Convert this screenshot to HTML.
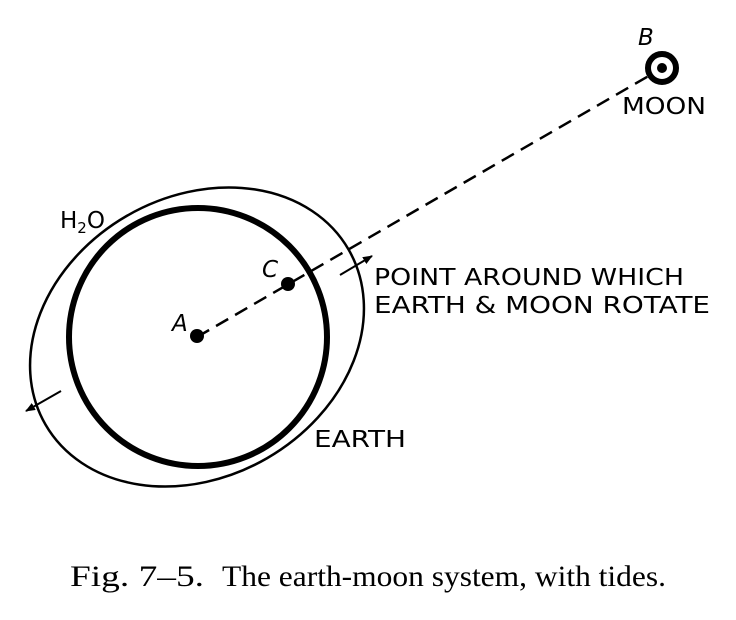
<!DOCTYPE html>
<html><head><style>body{margin:0;background:#fff}svg{display:block}</style></head><body>
<svg width="736" height="620" viewBox="0 0 736 620" xmlns="http://www.w3.org/2000/svg">
<defs><marker id="ah" markerWidth="10" markerHeight="8" refX="9" refY="4" orient="auto" markerUnits="userSpaceOnUse"><path d="M0,0 L10,4 L0,8 z" fill="#000"/></marker></defs>
<ellipse cx="197" cy="337" rx="175" ry="140" transform="rotate(-30 197 337)" fill="none" stroke="#000" stroke-width="2.5"/>
<circle cx="198" cy="337" r="129" fill="none" stroke="#000" stroke-width="6"/>
<line x1="197" y1="337" x2="652" y2="74" stroke="#000" stroke-width="2.5" stroke-dasharray="14,8"/>
<circle cx="197" cy="336" r="7" fill="#000"/>
<circle cx="288" cy="284" r="7" fill="#000"/>
<circle cx="662" cy="68" r="14" fill="none" stroke="#000" stroke-width="6"/>
<circle cx="662" cy="68" r="5" fill="#000"/>
<line x1="340" y1="275" x2="372" y2="256" stroke="#000" stroke-width="2" marker-end="url(#ah)"/>
<line x1="61" y1="391" x2="26" y2="411" stroke="#000" stroke-width="2" marker-end="url(#ah)"/>
<g font-family="'DejaVu Sans','Liberation Sans',sans-serif" font-size="23" fill="#000">
<text x="638" y="45" font-style="italic">B</text>
<text x="622" y="114" textLength="84" lengthAdjust="spacingAndGlyphs">MOON</text>
<text x="60" y="228">H<tspan font-size="15" dy="5">2</tspan><tspan dy="-5">O</tspan></text>
<text x="262" y="277" font-style="italic">C</text>
<text x="172" y="331" font-style="italic">A</text>
<text x="374" y="285" textLength="310" lengthAdjust="spacingAndGlyphs">POINT AROUND WHICH</text>
<text x="374" y="313" textLength="336" lengthAdjust="spacingAndGlyphs">EARTH &amp; MOON ROTATE</text>
<text x="314" y="447" textLength="92" lengthAdjust="spacingAndGlyphs">EARTH</text>
</g>
<g font-family="'Liberation Serif',serif" font-size="30">
<text x="70" y="586" textLength="134" lengthAdjust="spacingAndGlyphs">Fig. 7–5.</text>
<text x="222" y="586" textLength="444" lengthAdjust="spacingAndGlyphs">The earth-moon system, with tides.</text>
</g>
</svg>
</body></html>
